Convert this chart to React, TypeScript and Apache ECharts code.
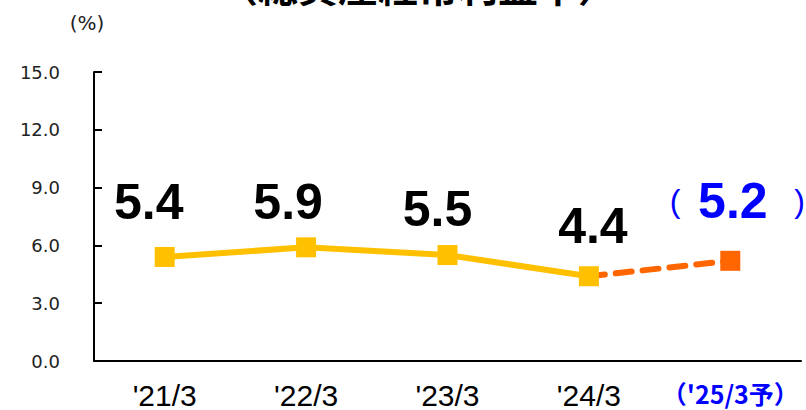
import React, { useEffect, useRef } from "react";
import * as echarts from "echarts";

const title = "（総資産経常利益率）";
const unitLabel = "(%)";
const categories = ["'21/3", "'22/3", "'23/3", "'24/3", "（'25/3予）"];
const actualValues = [5.4, 5.9, 5.5, 4.4];
const forecastValue = 5.2;
const yTicks = { min: 0, max: 15, interval: 3 };

// label placement tweaks (layout only)
const actualLabelOffsets = [
  [-16, -55],
  [-18, -45],
  [-10, -46],
  [4, -50],
];
const forecastLabelOffset = [7, -60];

export default function App() {
  const ref = useRef<HTMLDivElement>(null);
  useEffect(() => {
    document.body.style.margin = "0";
    if (!ref.current) return;
    const chart = echarts.init(ref.current, null, { renderer: "svg" });
    const n = categories.length;
    const solidData = categories.map((_, i) =>
      i < actualValues.length
        ? {
            value: actualValues[i],
            label: { offset: actualLabelOffsets[i] },
          }
        : null
    );
    const dashedData = categories.map((_, i) => {
      if (i === actualValues.length - 1)
        return { value: actualValues[i], symbol: "none", label: { show: false } };
      if (i === n - 1) return { value: forecastValue };
      return null;
    });
    chart.setOption({
      animation: false,
      grid: { left: 94, right: 5, top: 72, bottom: 49 },
      graphic: [
        {
          type: "text",
          x: 418,
          y: -15,
          style: {
            text: title,
            font: 'bold 40px "Noto Sans CJK JP"',
            fill: "#000",
            textAlign: "center",
            textVerticalAlign: "middle",
          },
        },
        {
          type: "text",
          x: 87,
          y: 23,
          style: {
            text: unitLabel,
            font: '20px "DejaVu Sans"',
            fill: "#222",
            textAlign: "center",
            textVerticalAlign: "middle",
          },
        },
      ],
      xAxis: {
        type: "category",
        data: categories,
        boundaryGap: true,
        axisLine: { lineStyle: { color: "#000", width: 2 } },
        axisTick: { inside: true, length: 10, lineStyle: { color: "#000", width: 2 } },
        axisLabel: {
          margin: 19,
          formatter: (v: string, i: number) =>
            i === categories.length - 1 ? `{f|${v}}` : `{a|${v}}`,
          rich: {
            a: {
              fontFamily: '"Liberation Sans Narrow", "Liberation Sans"',
              fontSize: 30,
              color: "#000",
            },
            f: {
              fontFamily: '"Noto Sans CJK JP"',
              fontWeight: "bold",
              fontSize: 25,
              color: "#0000FF",
            },
          },
        },
        splitLine: { show: false },
      },
      yAxis: {
        type: "value",
        min: yTicks.min,
        max: yTicks.max,
        interval: yTicks.interval,
        axisLine: { show: true, lineStyle: { color: "#000", width: 2 } },
        axisTick: { show: true, inside: true, length: 8, lineStyle: { color: "#000", width: 2 } },
        axisLabel: {
          margin: 34,
          formatter: (v: number) => v.toFixed(1),
          fontFamily: '"DejaVu Sans"',
          fontSize: 18,
          color: "#222",
        },
        splitLine: { show: false },
      },
      series: [
        {
          type: "line",
          data: dashedData,
          symbol: "rect",
          symbolSize: 20,
          z: 2,
          itemStyle: { color: "#FF6600" },
          lineStyle: { color: "#FF6600", width: 6, type: [16, 11], cap: "round" },
          label: {
            show: true,
            position: "inside",
            offset: forecastLabelOffset,
            formatter: (p: any) => `{p|(  }{n|${p.value.toFixed(1)}}{p|   )}`,
            rich: {
              p: {
                fontFamily: '"Liberation Sans"',
                fontSize: 32,
                color: "#0000FF",
              },
              n: {
                fontFamily: '"Liberation Sans"',
                fontWeight: "bold",
                fontSize: 50,
                color: "#0000FF",
              },
            },
          },
        },
        {
          type: "line",
          data: solidData,
          symbol: "rect",
          symbolSize: 20,
          z: 3,
          itemStyle: { color: "#FFC000" },
          lineStyle: { color: "#FFC000", width: 6 },
          label: {
            show: true,
            position: "inside",
            formatter: (p: any) => p.value.toFixed(1),
            fontFamily: '"Liberation Sans"',
            fontWeight: "bold",
            fontSize: 50,
            color: "#000",
          },
        },
      ],
    });
    return () => chart.dispose();
  }, []);
  return <div ref={ref} style={{ width: 806, height: 410 }} />;
}
